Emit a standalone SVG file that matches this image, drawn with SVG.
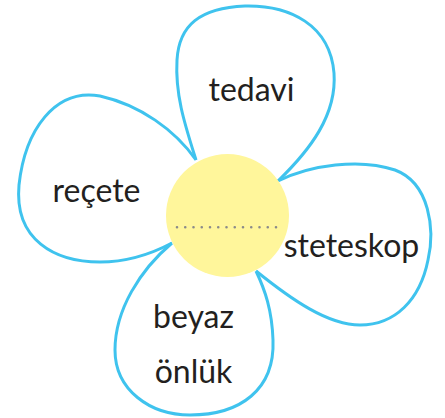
<svg xmlns="http://www.w3.org/2000/svg" width="445" height="418" viewBox="0 0 445 418">
<style>
.petal{fill:#ffffff;stroke:#3fc3ee;stroke-width:3;stroke-linejoin:miter;}
.lbl{font-family:Lato,"Noto Sans",sans-serif;font-size:32px;fill:#231f20;text-anchor:middle;}
</style>
<rect width="445" height="418" fill="#ffffff"/>
<g id="petal-tedavi">
<path class="petal" d="M196,160 C185,125 175,95 177,60 C179,25 200,8 245,6 C290,5 330,25 334,73 C337,115 310,150 278,181"/>
<text class="lbl" x="251.5" y="101">tedavi</text>
</g>
<g id="petal-recete">
<path class="petal" d="M196,160 C175,130 140,105 100,96 C55,88 25,130 19,185 C14,240 55,262 100,262 C130,262 155,252 172,243"/>
<text class="lbl" x="96.5" y="202">reçete</text>
</g>
<g id="petal-steteskop">
<path class="petal" d="M278,181 C310,165 360,158 395,170 C430,183 435,230 428,260 C420,300 395,325 360,325 C328,325 292,300 256,271"/>
<text class="lbl" x="351.5" y="257">steteskop</text>
</g>
<g id="petal-beyaz-onluk">
<path class="petal" d="M172,243 C140,270 115,310 115,350 C115,390 150,415 190,415 C240,415 275,390 273,340 C272,310 265,290 256,271"/>
<text class="lbl" x="193.5" y="328">beyaz</text>
<text class="lbl" x="193.5" y="383">önlük</text>
</g>
<g id="center">
<circle cx="227.5" cy="215.5" r="61.5" fill="#fff69b"/>
<line x1="177" y1="227.3" x2="276.5" y2="227.3" stroke="#8a8a8a" stroke-width="2.6" stroke-linecap="round" stroke-dasharray="0 8.25"/>
</g>
</svg>
